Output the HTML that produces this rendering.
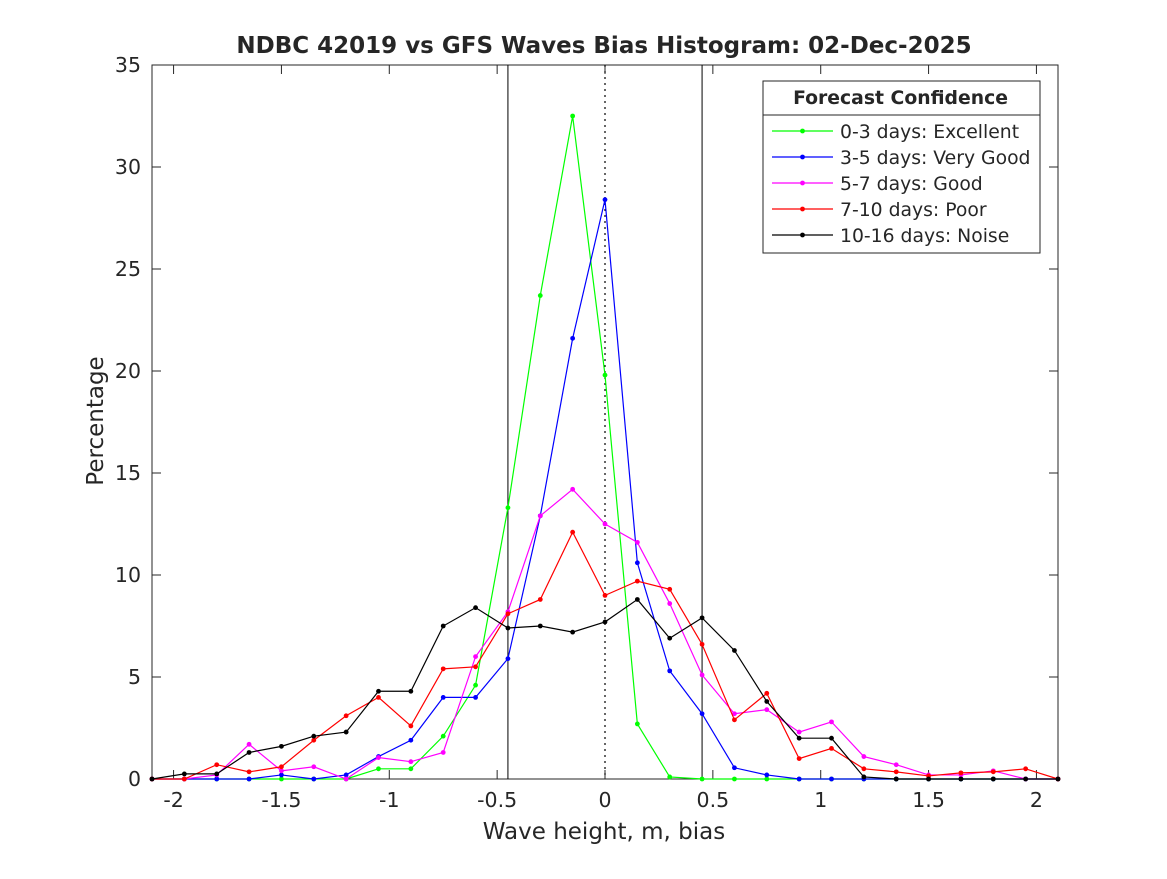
<!DOCTYPE html>
<html><head><meta charset="utf-8"><style>
body{margin:0;background:#fff;font-family:"DejaVu Sans",sans-serif}
text{font-family:"DejaVu Sans",sans-serif;fill:#262626}
</style></head><body>
<svg id="chart" width="1167" height="875" xmlns="http://www.w3.org/2000/svg">
<rect width="1167" height="875" fill="#fff"/>
<g id="plot"></g>
</svg>
<script>
const xCenters=[-2.1,-1.95,-1.8,-1.65,-1.5,-1.35,-1.2,-1.05,-0.9,-0.75,-0.6,-0.45,-0.3,-0.15,0,0.15,0.3,0.45,0.6,0.75,0.9,1.05,1.2,1.35,1.5,1.65,1.8,1.95,2.1];
const excellent=[0,0,0,0,0,0,0,0.5,0.5,2.1,4.6,13.3,23.7,32.5,19.8,2.7,0.1,0,0,0,0,0,0,0,0,0,0,0,0];
const veryGood=[0,0,0,0,0.2,0,0.2,1.1,1.9,4.0,4.0,5.9,12.9,21.6,28.4,10.6,5.3,3.2,0.55,0.2,0,0,0,0,0,0,0,0,0];
const good=[0,0,0.2,1.7,0.4,0.6,0,1.05,0.85,1.3,6.0,8.2,12.9,14.2,12.5,11.6,8.6,5.1,3.2,3.4,2.3,2.8,1.1,0.7,0.2,0.2,0.4,0,0];
const poor=[0,0,0.7,0.35,0.6,1.9,3.1,4.0,2.6,5.4,5.5,8.1,8.8,12.1,9.0,9.7,9.3,6.6,2.9,4.2,1.0,1.5,0.5,0.35,0.15,0.3,0.35,0.5,0];
const noise=[0,0.25,0.25,1.3,1.6,2.1,2.3,4.3,4.3,7.5,8.4,7.4,7.5,7.2,7.7,8.8,6.9,7.9,6.3,3.8,2.0,2.0,0.1,0,0,0,0,0,0];
const seriesNames=["0-3 days: Excellent","3-5 days: Very Good","5-7 days: Good","7-10 days: Poor","10-16 days: Noise"];
const seriesColors=["#00ff00","#0000ff","#ff00ff","#ff0000","#000000"];
const xTicks=[-2,-1.5,-1,-0.5,0,0.5,1,1.5,2];
const xTickLabels=["-2","-1.5","-1","-0.5","0","0.5","1","1.5","2"];
const yTicks=[0,5,10,15,20,25,30,35];
const refLines=[-0.45,0.45];

const L=152,R=1058,T=65,B=779,xmin=-2.1,xmax=2.1,ymin=0,ymax=35;
const X=v=>L+(v-xmin)/(xmax-xmin)*(R-L);
const Y=v=>B-(v-ymin)/(ymax-ymin)*(B-T);
const NS="http://www.w3.org/2000/svg";
const g=document.getElementById('plot');
function mk(tag,attrs,parent){const e=document.createElementNS(NS,tag);for(const k in attrs)e.setAttribute(k,attrs[k]);(parent||g).appendChild(e);return e;}

const box=mk('rect',{x:L,y:T,width:R-L,height:B-T,fill:'#fff',stroke:'#262626','stroke-width':1});



xTicks.forEach((t,i)=>{
  const a=mk('line',{x1:X(t),x2:X(t),y1:B,y2:B-9,stroke:'#262626'});
  
  
  const b=mk('line',{x1:X(t),x2:X(t),y1:T,y2:T+9,stroke:'#262626'});
  
  
  const tx=mk('text',{x:X(t),y:B+28,'text-anchor':'middle','font-size':20.5});
  tx.textContent=xTickLabels[i];
  
  
});
yTicks.forEach(t=>{
  const a=mk('line',{x1:L,x2:L+9,y1:Y(t),y2:Y(t),stroke:'#262626'});
  
  
  const b=mk('line',{x1:R,x2:R-9,y1:Y(t),y2:Y(t),stroke:'#262626'});
  
  
  const tx=mk('text',{x:L-11,y:Y(t)+7,'text-anchor':'end','font-size':20.5});
  tx.textContent=String(t);
  
  
});

refLines.forEach(v=>{
  const l=mk('line',{x1:X(v),x2:X(v),y1:T,y2:B,stroke:'#000','stroke-width':1});
  
  
});
const zl=mk('line',{x1:X(0),x2:X(0),y1:T,y2:B,stroke:'#000','stroke-width':1.2,'stroke-dasharray':'2,4'});



const allSeries=[excellent,veryGood,good,poor,noise];
const seriesKeys=['excellent','very-good','good','poor','noise'];
allSeries.forEach((arr,si)=>{
  const sg=mk('g',{});
  
  
  const pts=arr.map((v,i)=>X(xCenters[i])+','+Y(v)).join(' ');
  const pl=mk('polyline',{points:pts,fill:'none',stroke:seriesColors[si],'stroke-width':1.2},sg);
  
  
  arr.forEach((v,i)=>{
    const c=mk('circle',{cx:X(xCenters[i]),cy:Y(v),r:2.4,fill:seriesColors[si]},sg);
    
    
  });
});

const lg=mk('g',{});


mk('rect',{x:763,y:81,width:277,height:172,fill:'#fff',stroke:'#262626'},lg);
mk('line',{x1:763,x2:1040,y1:115,y2:115,stroke:'#262626'},lg);
const lt=mk('text',{x:900.5,y:104,'text-anchor':'middle','font-size':18.8,'font-weight':'bold',fill:'#000'},lg);
lt.textContent='Forecast Confidence';


seriesNames.forEach((n,i)=>{
  const y=131+i*26;
  const eg=mk('g',{},lg);
  
  
  mk('line',{x1:772,x2:833,y1:y,y2:y,stroke:seriesColors[i],'stroke-width':1.2},eg);
  mk('circle',{cx:802.5,cy:y,r:2.4,fill:seriesColors[i]},eg);
  const t=mk('text',{x:840,y:y+7,'font-size':18.8},eg);
  t.textContent=n;
});

const title=mk('text',{x:604,y:53,'text-anchor':'middle','font-size':23,'font-weight':'bold',fill:'#000'});
title.textContent='NDBC 42019 vs GFS Waves Bias Histogram: 02-Dec-2025';


const xl=mk('text',{x:604,y:839,'text-anchor':'middle','font-size':23});
xl.textContent='Wave height, m, bias';


const yl=mk('text',{x:0,y:0,'text-anchor':'middle','font-size':23,transform:'translate(103,421) rotate(-90)'});
yl.textContent='Percentage';


</script>
</body></html>
